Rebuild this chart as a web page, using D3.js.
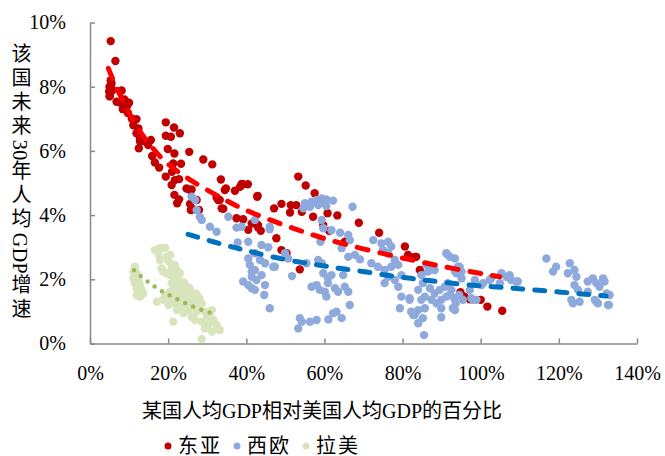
<!DOCTYPE html>
<html>
<head>
<meta charset="utf-8">
<script src="https://cdn.jsdelivr.net/npm/d3@7"></script>
<style>
  body { margin: 0; background: #fff; }
  svg text { font-family: "Liberation Serif", "Times New Roman", "Noto Sans CJK SC", serif; }
</style>
</head>
<body>
<div id="scatter"></div>
<script>
// 数据：[相对美国人均GDP %, 未来30年人均GDP增速 %]
var eastAsia = [
  [5.3,9.42],[6.5,8.8],[5.0,8.0],[5.2,7.8],[5.5,8.1],[5.0,7.7],[5.8,7.9],[5.3,8.2],[4.9,7.85],[5.1,7.71],
  [8.1,7.88],[6.8,7.53],[7.8,7.5],[8.8,7.6],[9.5,7.4],[10.0,7.5],[8.4,7.3],[9.7,7.18],[11.9,6.99],[10.7,7.0],
  [11.1,6.8],[12.4,6.7],[11.9,6.55],[13.2,6.34],[12.8,6.29],[15.6,6.34],[14.9,6.18],[12.5,6.08],[19.4,6.89],[21.5,6.73],
  [23.0,6.55],[19.4,6.47],[20.7,6.44],[19.9,6.06],[21.6,5.92],[25.4,5.97],[15.9,5.84],[16.6,5.64],[17.7,5.48],[23.3,5.6],
  [29.0,5.73],[31.3,5.58],[21.0,5.35],[19.4,5.2],[21.7,5.09],[33.5,5.11],[39.2,4.96],[40.4,4.96],[14.1,6.29],[12.8,6.39],
  [21.3,5.61],[22.8,5.12],[20.9,4.94],[24.7,4.83],[26.0,4.8],[34.8,4.83],[37.1,4.76],[38.8,4.97],[38.4,4.88],[42.8,4.57],
  [21.6,4.63],[22.8,4.49],[22.3,4.37],[33.2,4.47],[32.4,4.55],[34.1,4.2],[37.5,3.9],[39.2,3.87],[41.4,3.74],[43.0,3.62],
  [26.4,4.18],[25.6,4.35],[25.6,4.78],[27.3,4.47],[25.8,4.16],[27.9,4.16],[34.5,4.78],[32.8,4.47],[33.7,4.21],[40.5,3.54],
  [53.3,5.2],[55.2,4.92],[57.5,4.68],[42.9,4.6],[47.1,4.21],[49.0,4.35],[51.4,4.31],[52.8,4.31],[51.2,4.08],[54.2,4.1],
  [57.1,3.95],[60.8,4.06],[63.3,3.99],[59.7,3.69],[61.2,3.51],[68.8,3.76],[74.0,3.45],[43.0,3.69],[43.7,3.51],[49.0,2.91],
  [50.3,2.81],[53.7,2.31],[65.2,3.17],[80.6,3.02],[81.4,2.76],[83.5,2.7],[84.4,2.29],[95.9,1.46],[97.2,1.38],[100.0,1.36],
  [101.7,1.15],[105.5,1.02],[94.8,1.6],[47.7,3.28],[83.1,2.7]
];

var westEurope = [
  [26.0,4.57],[26.9,4.47],[27.3,4.16],[28.1,3.95],[28.6,3.85],[30.7,3.64],[32.4,3.48],[35.4,3.95],[37.5,3.61],[38.8,3.64],
  [37.8,3.15],[40.5,3.17],[40.5,2.65],[40.9,2.45],[41.4,2.24],[39.2,1.93],[40.5,1.82],[41.4,1.72],[41.4,2.08],
  [42.2,3.85],[46.0,3.56],[43.9,3.07],[45.6,3.0],[42.2,2.81],[43.5,2.6],[44.8,2.5],[47.3,2.39],[42.2,2.29],[43.9,2.13],
  [44.8,1.82],[44.6,1.51],[46.0,1.1],[42.2,1.67],[42.6,1.98],[49.9,2.81],[50.7,2.65],[51.7,2.1],[53.7,0.79],[53.3,0.47],
  [54.2,0.68],[56.3,0.68],[58.0,0.73],[55.4,2.5],[58.4,2.6],[59.3,2.5],[56.7,1.77],[58.0,1.82],[58.8,1.67],[60.1,1.61],
  [60.9,1.88],[60.9,2.03],[61.8,2.13],[59.7,2.19],[60.5,1.46],[62.7,1.72],[63.5,1.61],[62.2,0.94],[63.1,0.99],[64.4,0.79],
  [61.0,0.75],[65.2,1.77],[64.8,2.13],[66.1,1.61],[66.5,1.2],
  [55.0,4.37],[56.7,4.42],[58.0,4.47],[59.3,4.52],[60.5,4.49],[62.2,4.45],[54.6,4.21],[56.3,4.26],[58.4,4.31],[59.7,4.39],
  [60.5,4.28],[67.2,4.26],[59.3,3.85],[61.8,3.53],[59.7,3.59],[59.0,3.17],[64.0,3.45],[66.1,3.38],[66.5,3.22],[64.4,2.97],
  [66.1,2.7],[67.8,2.76],[69.1,2.62],[72.5,3.22],[74.6,3.12],[76.3,3.17],[77.1,3.02],[75.0,2.91],[76.3,2.81],
  [72.0,2.5],[73.7,2.39],[75.4,2.29],[77.1,2.39],[78.0,2.6],[78.9,2.45],[76.3,2.08],[75.4,1.88],[78.0,1.98],[79.7,2.13],
  [78.9,1.77],[79.7,1.46],[79.3,1.1],[81.8,1.36],[82.7,0.89],[82.2,0.99],
  [91.6,2.76],[93.4,2.65],[94.2,2.39],[93.4,2.24],[95.1,2.24],[84.8,2.13],[85.2,1.88],[86.5,2.24],[88.2,2.29],[87.0,1.72],
  [88.2,1.56],[89.5,1.67],[90.8,1.77],[91.6,1.88],[92.5,1.67],[91.2,1.46],[89.9,1.36],[88.7,1.25],[87.4,1.36],[85.7,1.46],
  [93.2,1.41],[94.5,1.51],[95.4,1.36],[93.6,1.25],[84.8,1.36],[85.7,1.1],[89.9,1.1],[92.9,1.1],[84.0,1.67],[98.5,1.98],
  [100.2,1.82],[102.7,2.03],[105.3,2.19],[106.6,2.08],[107.8,1.98],[109.5,1.93],[97.2,1.67],[98.9,1.36],[97.6,1.41],[116.8,2.65],
  [84.0,1.04],[89.9,0.82],[85.2,0.79],
  [119.3,2.39],[118.5,2.24],[122.8,2.5],[122.3,2.19],[124.0,2.29],[124.5,2.08],[124.0,1.82],[124.9,1.67],[123.2,1.36],[125.3,1.3],
  [123.6,1.25],[127.4,1.93],[128.7,2.03],[129.6,1.88],[131.3,2.03],[131.7,1.93],[130.4,1.77],[129.6,1.3],[130.0,1.25],[133.0,1.51],
  [132.8,1.2],[132.2,1.56],[127.4,1.61],[129.2,1.36],[132.6,1.2],
  [92.1,2.7],[94.6,2.39],[93.8,2.19],[95.1,2.03],[100.6,1.88],[102.3,1.98],[104.9,1.88],[107.4,2.13],[109.1,1.93],[92.1,1.51],
  [92.9,1.1],[98.0,1.36],[91.2,2.81],[86.1,2.45],[87.0,2.29],[85.5,0.26],[83.1,0.89],[84.0,0.63],[93.4,1.04],[81.8,1.41],
  [46.0,3.64],[46.9,2.39]
];

var latinAmerica = [
  [16.6,2.91],[17.9,2.97],[19.2,2.98],[17.5,2.8],[19.6,2.7],[20.5,2.76],[17.9,2.6],[20.1,2.55],[21.7,2.45],[22.2,2.29],
  [20.9,2.34],[18.3,2.34],[18.7,2.24],[19.6,2.19],[20.5,2.13],[21.7,2.08],[23.0,2.19],[22.6,2.08],
  [11.5,2.39],[11.1,2.24],[11.9,2.19],[11.1,2.03],[12.4,1.98],[11.5,1.88],[12.8,1.82],[11.9,1.72],[13.2,1.67],[12.4,1.56],
  [13.6,1.56],[12.8,1.46],[12.0,2.1],[12.3,1.9],[11.4,2.3],[12.7,1.75],[13.0,1.6],[12.0,1.5],
  [20.9,1.88],[22.2,1.93],[23.0,1.82],[23.9,1.82],[24.7,1.72],[21.7,1.72],[22.6,1.61],[20.5,1.61],[21.3,1.46],[23.4,1.51],
  [24.3,1.61],[25.6,1.67],[26.0,1.51],
  [17.1,1.3],[19.2,1.51],[18.7,1.36],[20.5,1.36],[20.1,1.2],[21.7,1.25],[23.0,1.3],[23.4,1.15],[22.2,1.04],[24.7,1.2],
  [25.6,1.3],[26.9,1.36],[26.4,1.2],[25.2,1.04],[23.9,0.94],[26.0,0.83],[27.3,0.99],[27.7,1.15],[28.6,1.25],[29.4,0.99],
  [26.9,0.73],[28.6,0.68],[29.9,0.78],[30.7,0.89],[31.2,1.04],[31.6,0.73],[30.3,0.58],[29.4,0.47],[31.2,0.37],[32.4,0.58],
  [33.2,0.42],[28.6,0.14],[21.3,0.68],
  [21.5,1.75],[22.9,1.7],[24.1,1.9],[24.5,1.55],[25.3,1.75],[23.6,1.3],[24.2,1.4],[22.0,1.35],[26.8,1.4],[27.2,1.55],[28.0,1.42]
];

// 趋势线（从图上读取的点）
var eastAsiaTrend = [
  [4.7,8.57],[6.4,8.05],[9.8,7.22],[13.2,6.5],[17.1,5.93],[19.6,5.6],[26.0,5.05],[34.1,4.5],[40.1,4.12],
  [50.7,3.64],[59.3,3.28],[70.3,2.93],[82.2,2.6],[92.5,2.34],[104.9,2.08]
];
var westEuropeTrend = [
  [25.1,3.4],[32.0,3.15],[37.5,2.97],[42.2,2.83],[49.9,2.6],[58.4,2.45],[63.5,2.34],[70.3,2.24],[77.2,2.1],
  [82.2,2.03],[86.5,1.96],[91.6,1.89],[97.2,1.82],[103.1,1.77],[108.7,1.72],[113.8,1.67],[124.5,1.56],[132.1,1.48]
];
var latinAmericaTrend = [
  [11.3,2.28],[13.4,2.06],[15.5,1.86],[17.6,1.68],[19.9,1.53],[22.3,1.38],[24.6,1.25],[27.0,1.12],[29.6,1.0],[32.1,0.92]
];

var xTicks = [0, 20, 40, 60, 80, 100, 120, 140];
var yTicks = [0, 2, 4, 6, 8, 10];
var seriesNames = ['东亚', '西欧', '拉美'];
// 纵轴标题分段：中文逐字加间距，拉丁字母不加
var yTitleParts = ['该国未来', '30', '年人均', 'GDP', '增速'];

var margin = {top: 22.5, right: 28, bottom: 112.5, left: 90};
var width = 665 - margin.left - margin.right;
var height = 456 - margin.top - margin.bottom;

var svg = d3.select('#scatter').append('svg')
  .attr('width', 665)
  .attr('height', 456);

var chart = svg.append('g')
  .attr('transform', 'translate(' + margin.left + ',' + margin.top + ')');

var x = d3.scaleLinear().domain([0, 140]).range([0, width]);
var y = d3.scaleLinear().domain([0, 10]).range([height, 0]);

// 坐标轴
var yAxis = d3.axisLeft(y)
  .tickValues(yTicks)
  .tickSizeInner(-5)
  .tickSizeOuter(0)
  .tickPadding(24)
  .tickFormat(function(d) { return d + '%'; });

var xAxis = d3.axisBottom(x)
  .tickValues(xTicks)
  .tickSizeInner(-5)
  .tickSizeOuter(0)
  .tickPadding(22)
  .tickFormat(function(d) { return d + '%'; });

var gy = chart.append('g').classed('y axis', true).call(yAxis);
var gx = chart.append('g').classed('x axis', true)
  .attr('transform', 'translate(0,' + height + ')')
  .call(xAxis);

[gx, gy].forEach(function(g) {
  g.attr('color', '#898989');
  g.selectAll('path, line').attr('stroke-width', 1.5);
  g.selectAll('text')
    .attr('fill', '#000')
    .style('font-size', '20px');
});

// 散点
var colors = ['#C00000', '#8EA9DB', '#D8E4BC'];
var allSeries = [eastAsia, westEurope, latinAmerica];

allSeries.forEach(function(series, i) {
  chart.append('g')
    .selectAll('circle')
    .data(series)
    .enter()
    .append('circle')
    .attr('cx', function(d) { return x(d[0]); })
    .attr('cy', function(d) { return y(d[1]); })
    .attr('r', 4.2)
    .style('fill', colors[i]);
});

// 趋势线
var line = d3.line()
  .x(function(d) { return x(d[0]); })
  .y(function(d) { return y(d[1]); })
  .curve(d3.curveBasis);

chart.append('path')
  .datum(eastAsiaTrend)
  .attr('d', line)
  .attr('fill', 'none')
  .attr('stroke', '#FF0000')
  .attr('stroke-width', 5)
  .attr('stroke-linecap', 'round')
  .attr('stroke-dasharray', '11 12');

chart.append('path')
  .datum(westEuropeTrend)
  .attr('d', line)
  .attr('fill', 'none')
  .attr('stroke', '#0070C0')
  .attr('stroke-width', 5)
  .attr('stroke-linecap', 'round')
  .attr('stroke-dasharray', '10 12');

chart.append('path')
  .datum(latinAmericaTrend)
  .attr('d', line)
  .attr('fill', 'none')
  .attr('stroke', '#9BBB59')
  .attr('stroke-width', 4.5)
  .attr('stroke-linecap', 'round')
  .attr('stroke-dasharray', '0 8.7');

// 轴标题
var yTitle = svg.append('text')
  .attr('x', 20)
  .attr('y', 183)
  .attr('text-anchor', 'middle')
  .style('writing-mode', 'vertical-rl')
  .style('font-size', '20px')
  .attr('fill', '#000');

yTitle.selectAll('tspan')
  .data(yTitleParts)
  .enter()
  .append('tspan')
  .style('letter-spacing', function(d, i) { return i % 2 === 0 ? '4px' : '0.5px'; })
  .text(function(d) { return d; });

svg.append('text')
  .attr('x', 322)
  .attr('y', 418)
  .attr('text-anchor', 'middle')
  .style('font-size', '20px')
  .attr('fill', '#000')
  .text('某国人均GDP相对美国人均GDP的百分比');

// 图例
var legendX = [168, 237, 306];
var legend = svg.append('g').classed('legend', true);
seriesNames.forEach(function(name, i) {
  legend.append('circle')
    .attr('cx', legendX[i])
    .attr('cy', 446)
    .attr('r', 3.5)
    .style('fill', colors[i]);
  legend.append('text')
    .attr('x', legendX[i] + 10)
    .attr('y', 453)
    .style('font-size', '20px')
    .style('letter-spacing', '2px')
    .attr('fill', '#000')
    .text(name);
});
</script>
</body>
</html>
